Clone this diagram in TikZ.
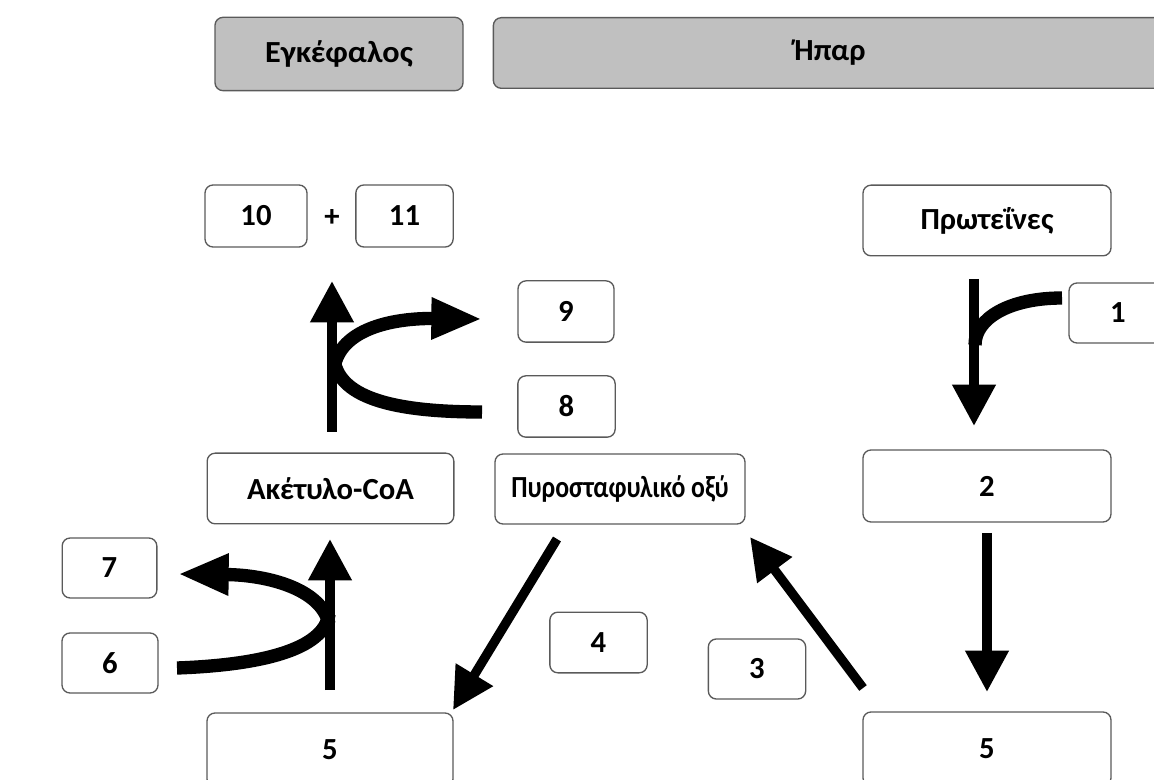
\documentclass[tikz,border=0pt]{standalone}
\usepackage{fontspec}
\setmainfont{Carlito}
\usetikzlibrary{arrows.meta}
\definecolor{hdrgray}{RGB}{192,192,192}
\definecolor{boxline}{RGB}{90,90,90}
\begin{document}
\begin{tikzpicture}[x=0.75pt,y=-0.75pt,
  every node/.style={font=\fontsize{23}{27}\selectfont\bfseries},
  box/.style={draw=boxline,line width=1pt,rounded corners=6pt,fill=white,inner sep=0pt,outer sep=0pt,align=center},
  hdr/.style={box,fill=hdrgray},
  straightarrow/.style={line width=7pt,-{Triangle[length=31pt,width=31pt]}},
  curvedarrow/.style={line width=10pt,-{Triangle[length=38pt,width=29pt]}},
  curveline/.style={line width=10pt}
]
\useasboundingbox (0,0) rectangle (1154,780);
\clip (0,0) rectangle (1154,780);
% header boxes
\node[hdr,minimum width=186pt,minimum height=55pt] (brain) at (339,54) {\scalebox{1.05}[1]{Εγκέφαλος}};
\node[hdr,minimum width=505pt,minimum height=53pt] (liver) at (830,53) {Ήπαρ};
% boxes
\node[box,minimum width=76.5pt,minimum height=46.5pt] (b10) at (256,216) {10};
\node (plus) at (332,218) {+};
\node[box,minimum width=73pt,minimum height=46.5pt] (b11) at (404.5,216) {11};
\node[box,minimum width=72pt,minimum height=46pt] (b9) at (566,311.5) {9};
\node[box,minimum width=73pt,minimum height=46pt] (b8) at (566.5,406.5) {8};
\node[box,minimum width=186pt,minimum height=53pt] (prot) at (987,220.5) {Πρωτεΐνες};
\node[box,minimum width=73.5pt,minimum height=45pt] (b1) at (1118,313) {1};
\node[box,minimum width=186pt,minimum height=54pt] (b2) at (987,486) {2};
\node[box,minimum width=185pt,minimum height=53pt] (acetyl) at (330.5,488.5) {Ακέτυλο-CoA};
\node[box,minimum width=187.5pt,minimum height=52.5pt] (pyro) at (620,489) {\scalebox{0.84}[1]{Πυροσταφυλικό οξύ}};
\node[box,minimum width=71pt,minimum height=45pt] (b7) at (109.5,568) {7};
\node[box,minimum width=72pt,minimum height=45pt] (b6) at (110,663) {6};
\node[box,minimum width=184.5pt,minimum height=55.5pt] (b5L) at (330,750) {5};
\node[box,minimum width=186pt,minimum height=55.5pt] (b5R) at (987,749) {5};
\node[box,minimum width=73pt,minimum height=45.5pt] (b4) at (598.5,642.5) {4};
\node[box,minimum width=73pt,minimum height=45pt] (b3) at (757,669) {3};
% arrow end points
\coordinate (protS) at (974,279);
\coordinate (protE) at (974,426);
\coordinate (oneS) at (1062,298);
\coordinate (oneJ) at (975,345);
\coordinate (twoS) at (987,533);
\coordinate (twoE) at (987,692);
\coordinate (fivRS) at (863,688);
\coordinate (fivRE) at (750,537);
\coordinate (pyrS) at (557,539);
\coordinate (pyrE) at (453,710);
\coordinate (acS) at (332,432);
\coordinate (acE) at (332,281);
\coordinate (nineS) at (334,368);
\coordinate (nineE) at (482,319);
\coordinate (eightS) at (482,412);
\coordinate (eightJ) at (334,360);
\coordinate (fivLS) at (330,690);
\coordinate (fivLE) at (330,539);
\coordinate (sevS) at (329,624);
\coordinate (sevE) at (178,574);
\coordinate (sixS) at (177,668);
\coordinate (sixJ) at (329,614);
% arrows
\draw[straightarrow] (protS) -- (protE);
\draw[curveline] (oneS) .. controls (1010,298) and (975,318) .. (oneJ);
\draw[straightarrow] (twoS) -- (twoE);
\draw[straightarrow] (fivRS) -- (fivRE);
\draw[straightarrow] (pyrS) -- (pyrE);
\draw[straightarrow] (acS) -- (acE);
\draw[curvedarrow] (nineS) .. controls (340,330) and (390,318) .. (nineE);
\draw[curveline] (eightS) .. controls (400,412) and (340,400) .. (eightJ);
\draw[straightarrow] (fivLS) -- (fivLE);
\draw[curvedarrow] (sevS) .. controls (322,590) and (270,575) .. (sevE);
\draw[curveline] (sixS) .. controls (260,665) and (324,650) .. (sixJ);
\end{tikzpicture}
\end{document}
